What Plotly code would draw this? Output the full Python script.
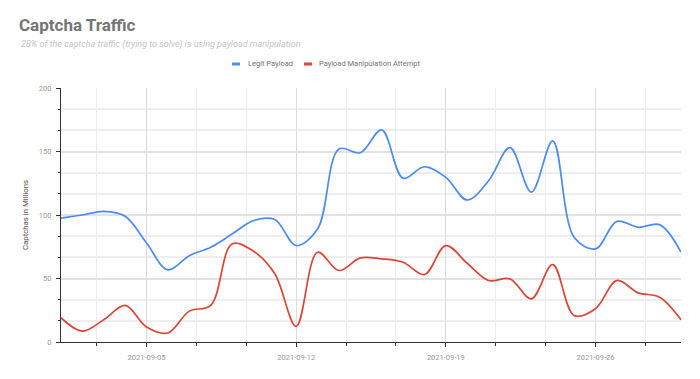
import plotly.graph_objects as go
import pandas as pd

dates = pd.date_range("2021-09-01", "2021-09-30", freq="D")
legit = [97.6, 100, 102.9, 99, 78, 56.8, 68, 74.6, 85, 95.6,
         96.5, 76, 89, 152, 149, 167, 129, 138, 129.6, 111.8,
         127, 153, 118, 158.4, 82.5, 73.3, 95, 90.3, 92.4, 70.7]
manip = [19.1, 8.6, 17.5, 28.8, 11.8, 7.1, 24.3, 28.8, 77.2, 71.5,
         53.7, 12.3, 70.7, 56.3, 66.2, 65.5, 62.8, 53.1, 75.9, 62,
         48.4, 49.7, 34, 61, 20.9, 26.2, 48.4, 38.7, 35.3, 17.5]
series_names = ["Legit Payload", "Payload Manipulation Attempt"]
colors = ["#4c8bf5", "#de4536"]

L, T, W, H = 61, 88, 620, 254
def px(x):
    return (x - L) / W
def py(y):
    return 1 - (y - T) / H

fig = go.Figure()
for name, vals, c in zip(series_names, [legit, manip], colors):
    fig.add_trace(go.Scatter(x=dates, y=vals, mode="lines", name=name,
                             line=dict(color=c, width=1.7, shape="spline", smoothing=1.0),
                             showlegend=False))

# manual legend (short bars + text), matching the original chart style
legend_pos = [(232, 245.5), (304, 316.5)]
shapes = []
annotations = [dict(text="<i>28% of the captcha traffic (trying to solve) is using payload manipulation</i>",
                    xref="paper", yref="paper", x=px(19), y=py(44),
                    xanchor="left", yanchor="middle", showarrow=False,
                    font=dict(family="Roboto", size=9, color="#c4c4c4"))]
for (bx, tx), name, c in zip(legend_pos, series_names, colors):
    shapes.append(dict(type="line", xref="paper", yref="paper",
                       x0=px(bx), x1=px(bx + 8), y0=py(64), y1=py(64),
                       line=dict(color=c, width=3)))
    annotations.append(dict(text=name, xref="paper", yref="paper", x=px(tx), y=py(64),
                            xanchor="left", yanchor="middle", showarrow=False,
                            font=dict(family="Roboto", size=7.5, color="#757575")))

DAY = 86400000
XR = ["2021-09-01", "2021-09-30"]
YR = [0, 200]
tickfont = dict(family="Roboto", size=7.5, color="#999999")
fig.update_layout(
    width=700, height=379,
    margin=dict(l=L, r=700 - L - W, t=T, b=379 - T - H),
    paper_bgcolor="white", plot_bgcolor="white",
    font=dict(family="Roboto", size=7.5, color="#757575"),
    showlegend=False,
    title=dict(text="Captcha Traffic", x=19/700, xref="container", xanchor="left",
               y=1 - 25/379, yref="container", yanchor="middle",
               font=dict(family="Roboto", size=17, color="#757575", weight="bold")),
    shapes=shapes,
    annotations=annotations,
    xaxis=dict(type="date", range=XR,
               tick0="2021-09-05", dtick=7*DAY, tickformat="%Y-%m-%d",
               showgrid=True, gridcolor="#dcdcdc", gridwidth=1,
               showline=True, linecolor="#333", linewidth=1,
               ticks="outside", ticklen=4, tickcolor="#333",
               tickfont=tickfont, ticklabelstandoff=4,
               minor=dict(tick0="2021-09-05", dtick=7*DAY/3, showgrid=True, gridcolor="#ececec",
                          ticks="outside", ticklen=2.5, tickcolor="#333"),
               zeroline=False, automargin=False, fixedrange=True),
    yaxis=dict(range=YR, tick0=0, dtick=50,
               showgrid=True, gridcolor="#e2e2e2", gridwidth=1.5,
               showline=True, linecolor="#333", linewidth=1,
               ticks="outside", ticklen=4, tickcolor="#333",
               tickfont=tickfont, ticklabelstandoff=3,
               minor=dict(tick0=0, dtick=50/3, showgrid=True, gridcolor="#eeeeee",
                          ticks="outside", ticklen=2.5, tickcolor="#333"),
               title=dict(text="Captchas in Millions", font=dict(family="Roboto", size=7.8, color="#555"),
                          standoff=9),
               zeroline=False, automargin=False, fixedrange=True),
    # overlay axes carrying the inner half of the tick marks (ticks cross the axis line)
    xaxis2=dict(type="date", range=XR, overlaying="x", anchor="y", side="bottom",
                tick0="2021-09-05", dtick=7*DAY, showgrid=False, showticklabels=False,
                ticks="inside", ticklen=4, tickcolor="#333", showline=False, zeroline=False,
                minor=dict(tick0="2021-09-05", dtick=7*DAY/3, showgrid=False,
                           ticks="inside", ticklen=2.5, tickcolor="#333"),
                automargin=False, fixedrange=True),
    yaxis2=dict(range=YR, overlaying="y", anchor="x", side="left",
                tick0=0, dtick=50, showgrid=False, showticklabels=False,
                ticks="inside", ticklen=4, tickcolor="#333", showline=False, zeroline=False,
                minor=dict(tick0=0, dtick=50/3, showgrid=False,
                           ticks="inside", ticklen=2.5, tickcolor="#333"),
                automargin=False, fixedrange=True),
)

fig.write_html("out.html", config={"displayModeBar": False},
               post_script="document.body.style.margin='0';")
